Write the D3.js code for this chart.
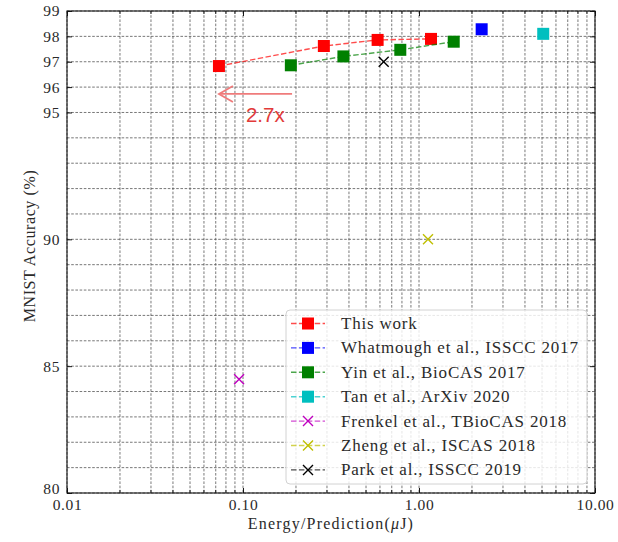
<!DOCTYPE html>
<html><head><meta charset="utf-8">
<script src="https://cdn.jsdelivr.net/npm/d3@7"></script>
<style>body{margin:0;background:#fff}svg{display:block}</style>
</head><body><svg id="chart" width="618" height="542"></svg>
<script>
// Energy per prediction (uJ) and MNIST accuracy (%) for each design
const thisWorkEnergy = [0.073, 0.288, 0.582, 1.17];
const thisWorkAcc    = [96.83, 97.62, 97.86, 97.90];
const whatmoughEnergy = [2.27];
const whatmoughAcc    = [98.28];
const yinEnergy = [0.187, 0.372, 0.783, 1.575];
const yinAcc    = [96.86, 97.21, 97.47, 97.79];
const tanEnergy = [5.08];
const tanAcc    = [98.10];
const frenkelEnergy = [0.095];
const frenkelAcc    = [84.48];
const zhengEnergy = [1.125];
const zhengAcc    = [90.0];
const parkEnergy = [0.63];
const parkAcc    = [97.0];

const seriesNames = ["This work", "Whatmough et al., ISSCC 2017", "Yin et al., BioCAS 2017",
  "Tan et al., ArXiv 2020", "Frenkel et al., TBioCAS 2018", "Zheng et al., ISCAS 2018", "Park et al., ISSCC 2019"];
const seriesColors = ["#ff0000", "#0000ff", "#008000", "#00bfbf", "#bf00bf", "#bfbf00", "#000000"];
const seriesMarkers = ["square", "square", "square", "square", "x", "x", "x"];
const seriesEnergy = [thisWorkEnergy, whatmoughEnergy, yinEnergy, tanEnergy, frenkelEnergy, zhengEnergy, parkEnergy];
const seriesAcc = [thisWorkAcc, whatmoughAcc, yinAcc, tanAcc, frenkelAcc, zhengAcc, parkAcc];

const xTicks = [0.01, 0.1, 1, 10];
const xTickLabels = ["0.01", "0.10", "1.00", "10.00"];
const yTicks = [80, 85, 90, 95, 96, 97, 98, 99];
const yGridValues = d3.range(80, 100);

// 2.7x energy reduction: from the lowest-energy Yin point to the lowest-energy point of this work
const arrowFrom = [0.19, 95.73];
const arrowTo = [0.073, 95.73];
const arrowLabel = "2.7x";

const svg = d3.select("#chart");
const L = 67, R = 595, T = 11, B = 493;
const serif = "'Liberation Serif', 'DejaVu Serif', serif";
const textColor = "#2a2a2a";

const x = d3.scaleLog().domain([0.01, 10]).range([L, R]);
const y = d3.scaleLinear().domain([80, 99]).range([B, T]);

const series = seriesNames.map((name, i) => ({
  name, color: seriesColors[i], marker: seriesMarkers[i],
  pts: seriesEnergy[i].map((e, j) => [e, seriesAcc[i][j]])
}));

// minor log positions
const xMinor = [];
[0.01, 0.1, 1].forEach(d => { for (let k = 1; k <= 9; k++) xMinor.push(d * k); });
xMinor.push(10);

// grid
const grid = svg.append("g").attr("stroke", "#555").attr("stroke-width", 0.8)
  .attr("stroke-dasharray", "2.6,1.6").attr("fill", "none");
grid.selectAll("line.v").data(xMinor).join("line").attr("class", "v")
  .attr("x1", d => x(d)).attr("x2", d => x(d)).attr("y1", T).attr("y2", B);
grid.selectAll("line.h").data(yGridValues).join("line").attr("class", "h")
  .attr("x1", L).attr("x2", R).attr("y1", d => y(d)).attr("y2", d => y(d));

// axes with inward ticks
const axB = d3.axisBottom(x).tickValues(xTicks).tickFormat((d, i) => xTickLabels[i]).tickSizeInner(-5).tickSizeOuter(0).tickPadding(6);
const axT = d3.axisTop(x).tickValues(xTicks).tickFormat("").tickSizeInner(-5).tickSizeOuter(0);
const axL = d3.axisLeft(y).tickValues(yTicks).tickFormat(d3.format("d")).tickSizeInner(-5).tickSizeOuter(0).tickPadding(7);
const axR = d3.axisRight(y).tickValues(yTicks).tickFormat("").tickSizeInner(-5).tickSizeOuter(0);
const gB = svg.append("g").attr("transform", `translate(0,${B})`).call(axB);
const gT = svg.append("g").attr("transform", `translate(0,${T})`).call(axT);
const gL = svg.append("g").attr("transform", `translate(${L},0)`).call(axL);
const gR = svg.append("g").attr("transform", `translate(${R},0)`).call(axR);
// minor x ticks
const minorOnly = xMinor.filter(v => !xTicks.some(t => Math.abs(t - v) < 1e-9));
[gB, gT].forEach((g, i) => {
  g.selectAll("line.minor").data(minorOnly).join("line").attr("class", "minor")
    .attr("x1", d => x(d)).attr("x2", d => x(d)).attr("y1", 0).attr("y2", i === 0 ? -3 : 3)
    .attr("stroke", "#000").attr("stroke-width", 0.8);
});
[gB, gT, gL, gR].forEach(g => {
  g.select(".domain").remove();
  g.selectAll("text").attr("font-family", serif).attr("font-size", 15.5).attr("letter-spacing", 0.6).attr("fill", textColor);
  g.selectAll(".tick line").attr("stroke", "#000").attr("stroke-width", 0.9);
});
// keep the corner label "80" clear of "0.01"
gL.selectAll(".tick text").filter(d => d === 80).attr("dy", "0.05em");
svg.append("rect").attr("x", L).attr("y", T).attr("width", R - L).attr("height", B - T)
  .attr("fill", "none").attr("stroke", "#111").attr("stroke-width", 1.1);

// series lines and markers
const line = d3.line().x(d => x(d[0])).y(d => y(d[1]));
function drawMarker(g, m, color, cx, cy, s) {
  if (m === "square") {
    g.append("rect").attr("x", cx - s / 2).attr("y", cy - s / 2).attr("width", s).attr("height", s).attr("fill", color);
  } else {
    const h = s / 2;
    g.append("path").attr("d", `M${cx - h},${cy - h}L${cx + h},${cy + h}M${cx - h},${cy + h}L${cx + h},${cy - h}`)
      .attr("stroke", color).attr("stroke-width", 1.4).attr("fill", "none");
  }
}
const marks = svg.append("g");
series.forEach(s => {
  if (s.pts.length > 1) {
    marks.append("path").datum(s.pts).attr("d", line).attr("fill", "none")
      .attr("stroke", s.color).attr("stroke-width", 1.4).attr("stroke-opacity", 0.7).attr("stroke-dasharray", "5.5,2.4");
  }
  s.pts.forEach(p => drawMarker(marks, s.marker, s.color, x(p[0]), y(p[1]), s.marker === "square" ? 12 : 10));
});

// annotation arrow
const ann = svg.append("g").attr("stroke", "#ef7b7b").attr("fill", "none").attr("stroke-width", 1.8);
const ax1 = x(arrowFrom[0]), ay = y(arrowFrom[1]), ax2 = x(arrowTo[0]);
ann.append("line").attr("x1", ax1).attr("x2", ax2).attr("y1", ay).attr("y2", ay);
ann.append("path").attr("d", `M${ax2 + 14},${ay - 8}L${ax2},${ay}L${ax2 + 14},${ay + 8}`);
svg.append("text").attr("x", ax2 + 27).attr("y", ay + 28).text(arrowLabel)
  .attr("font-family", "'Liberation Sans', Arial, sans-serif").attr("font-size", 20.5).attr("fill", "#e23a3a");

// legend
const lg = svg.append("g");
lg.append("rect").attr("x", 286).attr("y", 310).attr("width", 301).attr("height", 174).attr("rx", 4)
  .attr("fill", "#fff").attr("fill-opacity", 0.82).attr("stroke", "#d2d2d2").attr("stroke-width", 1);
series.forEach((s, i) => {
  const ry = 323.5 + i * 24.4;
  lg.append("line").attr("x1", 291).attr("x2", 325).attr("y1", ry).attr("y2", ry)
    .attr("stroke", s.color).attr("stroke-width", 1.4).attr("stroke-opacity", 0.7).attr("stroke-dasharray", "5.5,2.4");
  drawMarker(lg, s.marker, s.color, 308, ry, s.marker === "square" ? 12 : 10);
  lg.append("text").attr("x", 341).attr("y", ry + 5.5).text(s.name)
    .attr("font-family", serif).attr("font-size", 17).attr("letter-spacing", 0.8).attr("fill", textColor);
});

// axis titles
svg.append("text").attr("transform", `translate(35,${(T + B) / 2 - 6}) rotate(-90)`).attr("text-anchor", "middle")
  .attr("font-family", serif).attr("font-size", 16).attr("letter-spacing", 0.6).attr("fill", textColor).text("MNIST Accuracy (%)");
const xt = svg.append("text").attr("x", (L + R) / 2).attr("y", 529).attr("text-anchor", "middle")
  .attr("font-family", serif).attr("font-size", 16).attr("letter-spacing", 1.2).attr("fill", textColor);
xt.append("tspan").text("Energy/Prediction(");
xt.append("tspan").attr("font-style", "italic").text("\u03bc");
xt.append("tspan").text("J)");
</script></body></html>
